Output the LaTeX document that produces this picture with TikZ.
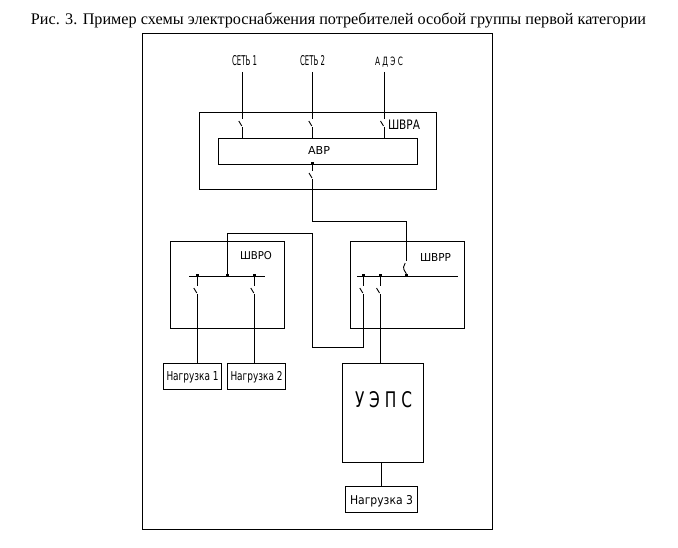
\documentclass[tikz,border=0pt]{standalone}
\usepackage{fontspec}
\usepackage{graphicx}
\setmainfont{Liberation Serif}
\newfontfamily\cad{DejaVu Sans}
\newcommand{\cadt}[3]{\resizebox{#1pt}{#2pt}{\cad #3}}
\begin{document}
\begin{tikzpicture}[x=1pt,y=-1pt,line width=0.9pt,
  box/.style={draw,rectangle,inner sep=0pt,outer sep=0pt},
  lbl/.style={inner sep=0pt},
  dotm/.style={fill,rectangle,inner sep=0pt,minimum size=3pt},
  swt/.pic={\draw[line width=0.9pt] (-3.5,2) -- (-0.5,7);}
]
\useasboundingbox (0,0) rectangle (678,548);
% title
\node[anchor=base,inner sep=0pt,font=\fontsize{16.2}{16.2}\selectfont] (title) at (338.5,25)
  {Рис. 3. Пример схемы электроснабжения потребителей особой группы первой категории};
% boxes
\node[box,minimum width=350pt,minimum height=496pt] (outer) at (317.4,281) {};
\node[box,minimum width=237pt,minimum height=77pt] (shvra) at (317.5,150.5) {};
\node[box,minimum width=199pt,minimum height=26pt] (avr) at (317.5,151) {};
\node[lbl] (avrt) at (319,150.5) {\cadt{22}{8}{АВР}};
\node[box,minimum width=114pt,minimum height=87pt] (shvro) at (227.7,284.5) {};
\node[box,minimum width=114pt,minimum height=87pt] (shvrr) at (407,284.5) {};
\node[box,minimum width=58pt,minimum height=26pt] (n1) at (192,376) {};
\node[box,minimum width=58pt,minimum height=26pt] (n2) at (256,376) {};
\node[box,minimum width=81pt,minimum height=99pt] (ueps) at (382.5,412.5) {};
\node[box,minimum width=72pt,minimum height=26pt] (n3) at (381.3,499) {};
% labels
\node[lbl] (s1) at (244.5,60.5) {\cadt{25}{10}{СЕТЬ 1}};
\node[lbl] (s2) at (312.5,60.5) {\cadt{25}{10}{СЕТЬ 2}};
\node[lbl,anchor=base] (ades) at (389,66) {\cadt{28}{8.5}{А Д Э С}};
\node[lbl] (shvrat) at (404,124.5) {\cadt{32}{9.5}{ШВРА}};
\node[lbl] (shvrot) at (256,255.5) {\cadt{32}{8}{ШВРО}};
\node[lbl] (shvrrt) at (435.5,257.5) {\cadt{31}{8}{ШВРР}};
\node[lbl,anchor=base] at (192.5,381) {\cadt{52}{9}{Нагрузка 1}};
\node[lbl,anchor=base] at (256.5,381) {\cadt{52}{9}{Нагрузка 2}};
\node[lbl,anchor=base] at (381.5,504) {\cadt{63}{9}{Нагрузка 3}};
\node[lbl] (uepst) at (383.5,400) {\cadt{57}{16}{У Э П С}};
% input wires to ABP
\foreach \x/\n in {242.3/a,312.3/b,384/c}{
  \coordinate (top\n) at (\x,72);
  \coordinate (sw\n) at (\x,119);
  \draw (top\n) -- (sw\n);
  \pic at (sw\n) {swt};
  \draw (\x,127) -- (\x,138);
}
% ABP output
\coordinate (avrout) at (312.5,163.5);
\node[dotm] at (avrout) {};
\coordinate (swo) at (312.5,171);
\draw (avrout) -- (swo);
\pic at (swo) {swt};
\coordinate (c1) at (312.5,221);
\coordinate (c2) at (406.7,221);
\coordinate (swr) at (406.7,261);
\draw (312.5,179) -- (c1) -- (c2) -- (swr);
\draw (405.2,263) -- (403.6,267) .. controls (403.2,271) and (406.7,272) .. (406.7,276);
% SHVRO bus
\coordinate (bo1) at (189,276);
\coordinate (bo2) at (265,276);
\draw (bo1) -- (bo2);
\foreach \x in {197.3,227,254.3}{\node[dotm] at (\x,276) {};}
\foreach \x/\n in {197.3/n1,254.3/n2}{
  \draw (\x,276) -- (\x,286);
  \pic at (\x,286) {swt};
  \draw (\x,294) -- (\n.north -| \x,0);
}
% link SHVRO - SHVRR
\draw (227,276) -- (227,233) -- (312.5,233) -- (312.5,347) -- (363.3,347) -- (363.3,294);
\pic at (363.3,286) {swt};
\draw (363.3,286) -- (363.3,276);
% SHVRR bus
\coordinate (br1) at (357,276);
\coordinate (br2) at (458,276);
\draw (br1) -- (br2);
\foreach \x in {363.3,380,406.7}{\node[dotm] at (\x,276) {};}
\draw (380,276) -- (380,286);
\pic at (380,286) {swt};
\draw (380,294) -- (ueps.north -| 380,0);
% UEPS to load 3
\draw (ueps.south -| 381.7,0) -- (n3.north -| 381.7,0);
\end{tikzpicture}
\end{document}
